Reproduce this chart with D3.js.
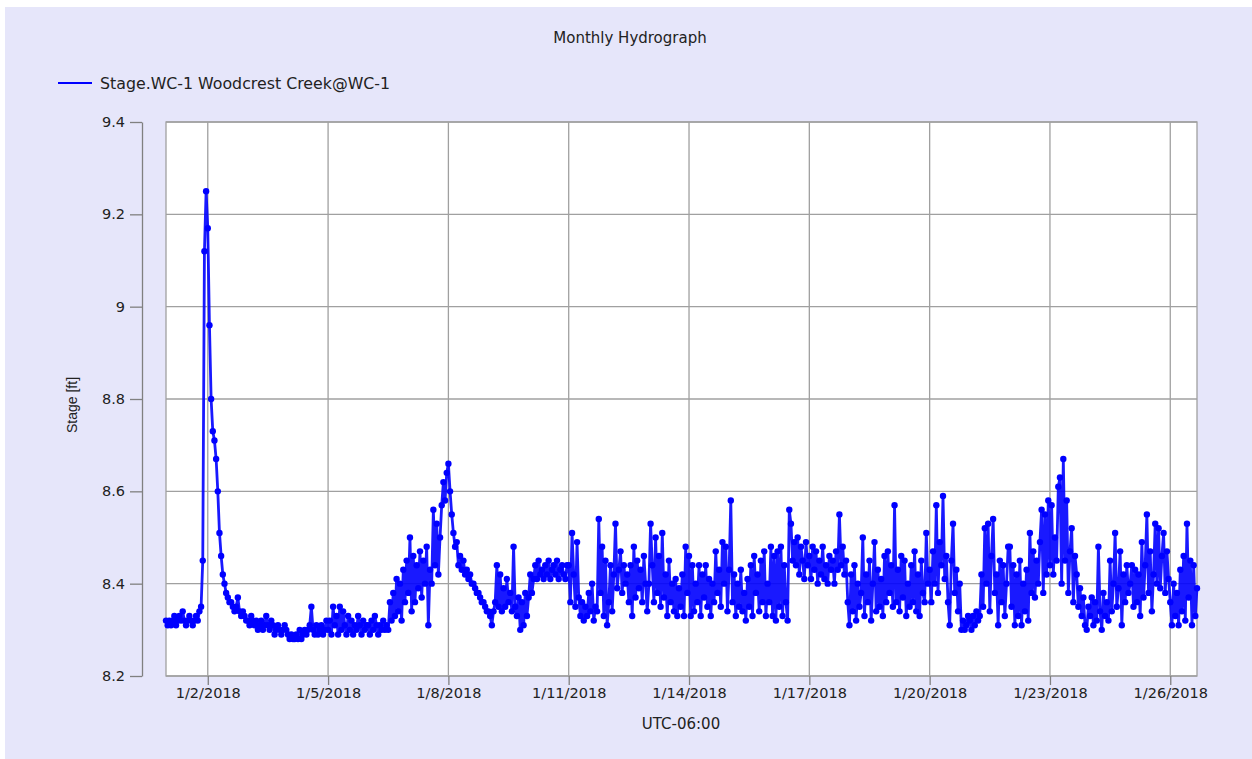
<!DOCTYPE html>
<html>
<head>
<meta charset="utf-8">
<script src="https://cdn.jsdelivr.net/npm/d3@7"></script>
<style>
  body { margin: 0; background: #fff; }
  text { font-family: "DejaVu Sans", sans-serif; fill: #222; }
</style>
</head>
<body>
<div id="chart"></div>
<script>
// hourly stage readings [ft], first one is 12/31/2017 23:00
const dec31 = [8.32];
const jan01 = [8.31,8.32,8.31,8.32,8.33,8.31,8.32,8.33,8.32,8.34,8.32,8.31,8.32,8.33,8.32,8.31,8.32,8.33,8.32,8.34,8.35,8.45,9.12,9.25];
const jan02 = [9.17,8.96,8.80,8.73,8.71,8.67,8.60,8.51,8.46,8.42,8.40,8.38,8.37,8.36,8.36,8.35,8.34,8.35,8.37,8.34,8.33,8.34,8.33,8.32];
const jan03 = [8.32,8.31,8.33,8.32,8.31,8.32,8.30,8.31,8.32,8.30,8.31,8.33,8.31,8.30,8.32,8.31,8.29,8.30,8.31,8.30,8.29,8.30,8.31,8.30];
const jan04 = [8.29,8.28,8.29,8.28,8.28,8.29,8.28,8.30,8.28,8.29,8.30,8.29,8.30,8.31,8.35,8.30,8.29,8.31,8.29,8.30,8.31,8.29,8.30,8.32];
const jan05 = [8.30,8.32,8.29,8.35,8.31,8.33,8.29,8.35,8.30,8.34,8.31,8.29,8.33,8.30,8.32,8.29,8.31,8.30,8.33,8.31,8.29,8.32,8.30,8.31];
const jan06 = [8.31,8.29,8.32,8.30,8.33,8.31,8.29,8.31,8.30,8.32,8.30,8.31,8.30,8.36,8.32,8.38,8.33,8.41,8.34,8.40,8.32,8.43,8.36,8.45];
const jan07 = [8.38,8.50,8.34,8.46,8.36,8.44,8.39,8.47,8.37,8.45,8.40,8.48,8.31,8.43,8.40,8.56,8.44,8.53,8.42,8.50,8.57,8.62,8.58,8.64];
const jan08 = [8.66,8.60,8.55,8.51,8.48,8.49,8.44,8.46,8.43,8.45,8.42,8.43,8.41,8.42,8.40,8.40,8.39,8.38,8.38,8.37,8.36,8.36,8.35,8.34];
const jan09 = [8.34,8.33,8.31,8.34,8.36,8.44,8.35,8.42,8.34,8.39,8.35,8.41,8.36,8.38,8.34,8.48,8.35,8.33,8.37,8.30,8.36,8.31,8.38,8.33];
const jan10 = [8.37,8.42,8.38,8.41,8.44,8.41,8.45,8.42,8.43,8.41,8.44,8.42,8.45,8.41,8.43,8.44,8.42,8.45,8.41,8.43,8.44,8.42,8.41,8.44];
const jan11 = [8.44,8.36,8.51,8.42,8.35,8.49,8.37,8.33,8.36,8.32,8.35,8.33,8.38,8.34,8.40,8.32,8.35,8.34,8.54,8.38,8.48,8.33,8.45,8.31];
const jan12 = [8.36,8.44,8.34,8.42,8.53,8.39,8.43,8.47,8.38,8.44,8.40,8.42,8.36,8.44,8.33,8.48,8.37,8.45,8.39,8.43,8.36,8.46,8.40,8.34];
const jan13 = [8.40,8.53,8.44,8.36,8.50,8.38,8.46,8.35,8.51,8.37,8.42,8.33,8.45,8.36,8.40,8.34,8.41,8.33,8.39,8.35,8.42,8.33,8.48,8.38];
const jan14 = [8.46,8.33,8.44,8.34,8.40,8.36,8.44,8.33,8.42,8.37,8.44,8.35,8.41,8.33,8.40,8.36,8.47,8.38,8.43,8.35,8.49,8.40,8.48,8.34];
const jan15 = [8.43,8.58,8.36,8.42,8.33,8.40,8.35,8.43,8.34,8.38,8.32,8.41,8.35,8.44,8.33,8.46,8.38,8.42,8.34,8.45,8.36,8.47,8.33,8.40];
const jan16 = [8.36,8.48,8.33,8.46,8.32,8.47,8.35,8.48,8.33,8.44,8.36,8.32,8.56,8.53,8.45,8.49,8.44,8.50,8.42,8.48,8.45,8.41,8.49,8.44];
const jan17 = [8.46,8.41,8.48,8.43,8.47,8.40,8.45,8.42,8.48,8.41,8.44,8.40,8.46,8.43,8.45,8.40,8.47,8.43,8.55,8.44,8.48,8.42,8.45,8.36];
const jan18 = [8.31,8.42,8.34,8.44,8.32,8.40,8.35,8.38,8.50,8.33,8.42,8.36,8.45,8.32,8.40,8.49,8.34,8.43,8.35,8.41,8.33,8.46,8.36,8.47];
const jan19 = [8.38,8.44,8.35,8.57,8.36,8.43,8.34,8.46,8.37,8.45,8.33,8.40,8.35,8.44,8.36,8.47,8.34,8.42,8.33,8.45,8.38,8.36,8.51,8.40];
const jan20 = [8.43,8.36,8.47,8.40,8.57,8.38,8.49,8.44,8.59,8.41,8.46,8.36,8.31,8.45,8.53,8.38,8.43,8.34,8.40,8.30,8.32,8.30,8.31,8.33];
const jan21 = [8.32,8.30,8.33,8.31,8.34,8.32,8.33,8.42,8.35,8.52,8.40,8.53,8.34,8.46,8.54,8.38,8.42,8.31,8.45,8.36,8.44,8.33,8.40,8.48];
const jan22 = [8.48,8.35,8.44,8.31,8.42,8.33,8.45,8.31,8.40,8.34,8.43,8.32,8.51,8.38,8.47,8.37,8.45,8.40,8.49,8.56,8.38,8.55,8.42,8.58];
const jan23 = [8.44,8.57,8.42,8.50,8.45,8.61,8.63,8.40,8.67,8.45,8.58,8.38,8.47,8.52,8.36,8.46,8.42,8.35,8.39,8.33,8.37,8.31,8.30,8.35];
const jan24 = [8.33,8.37,8.31,8.36,8.32,8.48,8.34,8.30,8.38,8.33,8.36,8.32,8.45,8.34,8.40,8.51,8.35,8.39,8.47,8.31,8.42,8.36,8.44,8.38];
const jan25 = [8.40,8.44,8.35,8.43,8.36,8.42,8.33,8.49,8.37,8.44,8.55,8.38,8.47,8.34,8.42,8.53,8.40,8.52,8.39,8.46,8.51,8.38,8.47,8.41];
const jan26 = [8.36,8.31,8.40,8.33,8.38,8.31,8.43,8.34,8.46,8.32,8.53,8.37,8.45,8.31,8.44,8.33,8.39];

const xTickLabels = ["1/2/2018","1/5/2018","1/8/2018","1/11/2018","1/14/2018","1/17/2018","1/20/2018","1/23/2018","1/26/2018"];
const yTicks = [8.2, 8.4, 8.6, 8.8, 9, 9.2, 9.4];
const yTickLabels = ["8.2","8.4","8.6","8.8","9","9.2","9.4"];
const seriesName = "Stage.WC-1 Woodcrest Creek@WC-1";

const width = 1252, height = 759;
const plotLeft = 166, plotRight = 1197, plotTop = 122, plotBottom = 676;

let stage = [].concat(dec31, jan01, jan02, jan03, jan04, jan05, jan06, jan07, jan08, jan09,
	jan10, jan11, jan12, jan13, jan14, jan15, jan16, jan17, jan18, jan19,
	jan20, jan21, jan22, jan23, jan24, jan25, jan26);

let start = new Date(2017, 11, 31, 23);
let data = stage.map((v, i) => ({t: d3.timeHour.offset(start, i), v: v}));

let parseDate = d3.timeParse("%m/%d/%Y");
let tickDates = xTickLabels.map(parseDate);

let svg = d3.select("#chart")
	.append("svg")
	.attr("width", width)
	.attr("height", height);

// lavender panel
svg.append("rect")
	.attr("x", 5).attr("y", 7)
	.attr("width", width - 5).attr("height", height - 7)
	.attr("fill", "#e6e6fa");

let x = d3.scaleTime()
	.domain([data[0].t, data[data.length - 1].t])
	.range([plotLeft, plotRight]);

let y = d3.scaleLinear()
	.domain([8.2, 9.4])
	.range([plotBottom, plotTop]);

// plot area
svg.append("rect")
	.attr("x", plotLeft).attr("y", plotTop)
	.attr("width", plotRight - plotLeft).attr("height", plotBottom - plotTop)
	.attr("fill", "#fff");

// grid
svg.append("g")
	.selectAll("line")
	.data(tickDates)
	.join("line")
	.attr("x1", d => x(d)).attr("x2", d => x(d))
	.attr("y1", plotTop).attr("y2", plotBottom)
	.attr("stroke", "#a0a0a0")
	.attr("stroke-width", 1.3);

svg.append("g")
	.selectAll("line")
	.data(yTicks)
	.join("line")
	.attr("x1", plotLeft).attr("x2", plotRight)
	.attr("y1", d => y(d)).attr("y2", d => y(d))
	.attr("stroke", "#a0a0a0")
	.attr("stroke-width", 1.3);

svg.append("rect")
	.attr("x", plotLeft).attr("y", plotTop)
	.attr("width", plotRight - plotLeft).attr("height", plotBottom - plotTop)
	.attr("fill", "none")
	.attr("stroke", "#a0a0a0")
	.attr("stroke-width", 1.3);

// axes
let yAxis = svg.append("g")
	.attr("transform", `translate(142,0)`)
	.call(d3.axisLeft(y)
		.tickValues(yTicks)
		.tickFormat((d, i) => yTickLabels[i])
		.tickSize(12)
		.tickSizeOuter(0)
		.tickPadding(5));
yAxis.selectAll("line, path").attr("stroke", "#808080").attr("stroke-width", 1.3);
yAxis.selectAll("text").attr("font-size", 14.5).attr("font-family", "DejaVu Sans").attr("fill", "#222");

let xAxis = svg.append("g")
	.attr("transform", `translate(0,${plotBottom})`)
	.call(d3.axisBottom(x)
		.tickValues(tickDates)
		.tickFormat((d, i) => xTickLabels[i])
		.tickSize(9)
		.tickPadding(3));
xAxis.select(".domain").remove();
xAxis.selectAll("line").attr("stroke", "#808080").attr("stroke-width", 1.3);
xAxis.selectAll("text").attr("font-size", 14.5).attr("font-family", "DejaVu Sans").attr("fill", "#222");

// series
let line = d3.line()
	.x(d => x(d.t))
	.y(d => y(d.v));

svg.append("path")
	.datum(data)
	.attr("d", line)
	.attr("fill", "none")
	.attr("stroke", "#0000ff")
	.attr("stroke-opacity", 0.9)
	.attr("stroke-width", 2.8)
	.attr("stroke-linejoin", "round");

svg.append("g")
	.selectAll("circle")
	.data(data)
	.join("circle")
	.attr("cx", d => x(d.t))
	.attr("cy", d => y(d.v))
	.attr("r", 3.2)
	.attr("fill", "#0000ff");

// titles and legend
svg.append("text")
	.attr("x", 630).attr("y", 43)
	.attr("text-anchor", "middle")
	.attr("font-size", 15)
	.text("Monthly Hydrograph");

svg.append("line")
	.attr("x1", 58).attr("x2", 92)
	.attr("y1", 83).attr("y2", 83)
	.attr("stroke", "#0000ff")
	.attr("stroke-width", 2);

svg.append("text")
	.attr("x", 100).attr("y", 89)
	.attr("font-size", 15.8)
	.text(seriesName);

svg.append("text")
	.attr("transform", "translate(77,405) rotate(-90)")
	.attr("text-anchor", "middle")
	.attr("font-size", 14)
	.style("font-family", "'Liberation Sans Narrow', sans-serif")
	.text("Stage [ft]");

svg.append("text")
	.attr("x", 681).attr("y", 729)
	.attr("text-anchor", "middle")
	.attr("font-size", 15)
	.text("UTC-06:00");
</script>
</body>
</html>
